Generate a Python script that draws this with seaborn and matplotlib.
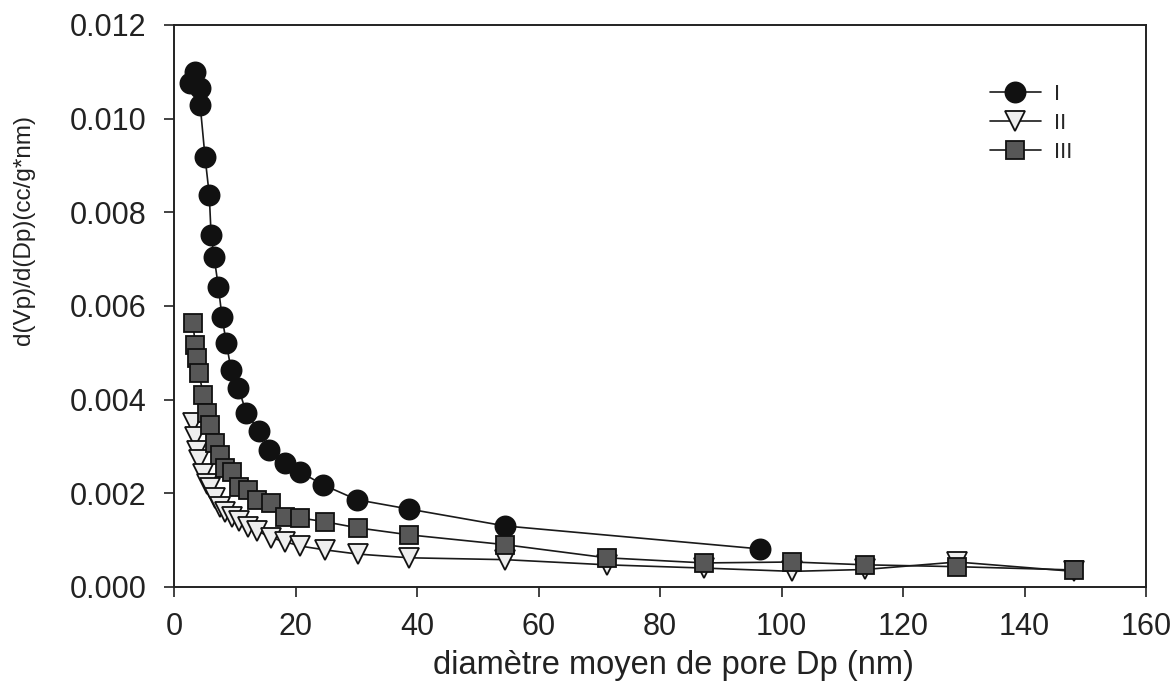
import matplotlib
matplotlib.use("Agg")
import matplotlib.pyplot as plt
import seaborn as sns
import pandas as pd

# Pore size distribution (BJH) for three samples
dp_I = [2.6, 3.5, 4.2, 4.3, 5.1, 5.8, 6.1, 6.6, 7.3, 7.9, 8.6, 9.4, 10.6, 11.9,
        14.0, 15.7, 18.2, 20.8, 24.5, 30.1, 38.7, 54.5, 96.4]
dv_I = [0.01076, 0.01099, 0.01065, 0.01029, 0.00918, 0.00837, 0.00751, 0.00704,
        0.00640, 0.00576, 0.00521, 0.00463, 0.00425, 0.00371, 0.00333, 0.00292,
        0.00265, 0.00245, 0.00218, 0.00186, 0.00166, 0.00130, 0.00081]

dp_II = [3.1, 3.5, 3.8, 4.1, 4.8, 5.5, 6.0, 6.8, 7.6, 8.4, 9.6, 10.7, 12.1, 13.7,
         15.9, 18.3, 20.8, 24.8, 30.2, 38.7, 54.5, 71.2, 87.3, 101.8, 113.7,
         128.9, 148.1]
dv_II = [0.00350, 0.00320, 0.00290, 0.00270, 0.00240, 0.00220, 0.00210, 0.00190,
         0.00170, 0.00160, 0.00150, 0.00140, 0.00128, 0.00120, 0.00105, 0.00096,
         0.00087, 0.00079, 0.00070, 0.00062, 0.00058, 0.00047, 0.00040, 0.00033,
         0.00037, 0.00053, 0.00033]

dp_III = [3.1, 3.5, 3.8, 4.1, 4.8, 5.5, 6.0, 6.8, 7.6, 8.4, 9.6, 10.7, 12.1, 13.7,
          15.9, 18.3, 20.8, 24.8, 30.2, 38.7, 54.5, 71.2, 87.3, 101.8, 113.7,
          128.9, 148.1]
dv_III = [0.00563, 0.00517, 0.00489, 0.00457, 0.00410, 0.00371, 0.00346, 0.00307,
          0.00282, 0.00254, 0.00245, 0.00213, 0.00207, 0.00186, 0.00179, 0.00149,
          0.00147, 0.00139, 0.00126, 0.00111, 0.00090, 0.00062, 0.00051, 0.00053,
          0.00047, 0.00043, 0.00036]

series_names = ["I", "II", "III"]
x_ticks = [0, 20, 40, 60, 80, 100, 120, 140, 160]
y_ticks = [0.000, 0.002, 0.004, 0.006, 0.008, 0.010, 0.012]

sns.set_theme(style="ticks")
plt.rcParams["font.family"] = ["Liberation Sans", "DejaVu Sans"]

fig = plt.figure(figsize=(11.76, 6.92), dpi=100)
ax = fig.add_axes([0.148, 0.152, 0.8265, 0.812])

styles = {
    "I": dict(marker="o", markerfacecolor="#111111", markersize=14.5),
    "II": dict(marker="v", markerfacecolor="#eeeeee", markersize=14),
    "III": dict(marker="s", markerfacecolor="#575757", markersize=12.5),
}
data = {"I": (dp_I, dv_I), "II": (dp_II, dv_II), "III": (dp_III, dv_III)}

for name in series_names:
    xs, ys = data[name]
    df = pd.DataFrame({"Dp": xs, "dV": ys})
    sns.lineplot(data=df, x="Dp", y="dV", ax=ax, sort=False, estimator=None,
                 color="#1a1a1a", linewidth=1.2, markeredgecolor="#111111",
                 markeredgewidth=1.3, label=name, **styles[name])

ax.set_xlim(0, 160)
ax.set_ylim(0, 0.012)
ax.set_xticks(x_ticks)
ax.set_yticks(y_ticks)
ax.set_xticklabels([str(v) for v in x_ticks])
ax.set_yticklabels([f"{v:.3f}" for v in y_ticks])
ax.tick_params(direction="out", length=7, width=1.2, labelsize=22, colors="#222222")
ax.tick_params(axis="y", pad=13)
ax.tick_params(axis="x", pad=11)
for sp in ax.spines.values():
    sp.set_visible(True)
    sp.set_linewidth(1.4)
    sp.set_color("#222222")

ax.set_xlabel("diamètre moyen de pore Dp (nm)", fontsize=23.5, color="#222222")
ax.set_ylabel("d(Vp)/d(Dp)(cc/g*nm)", fontsize=17.5, color="#222222")
ax.xaxis.set_label_coords(0.514, -0.113)
ax.yaxis.set_label_coords(-0.143, 0.635)

leg = ax.legend(loc="upper right", bbox_to_anchor=(0.945, 0.93), frameon=False,
                fontsize=16, handlelength=2.3, labelspacing=0.35,
                handletextpad=0.6)

fig.savefig("out.png", dpi=100)
